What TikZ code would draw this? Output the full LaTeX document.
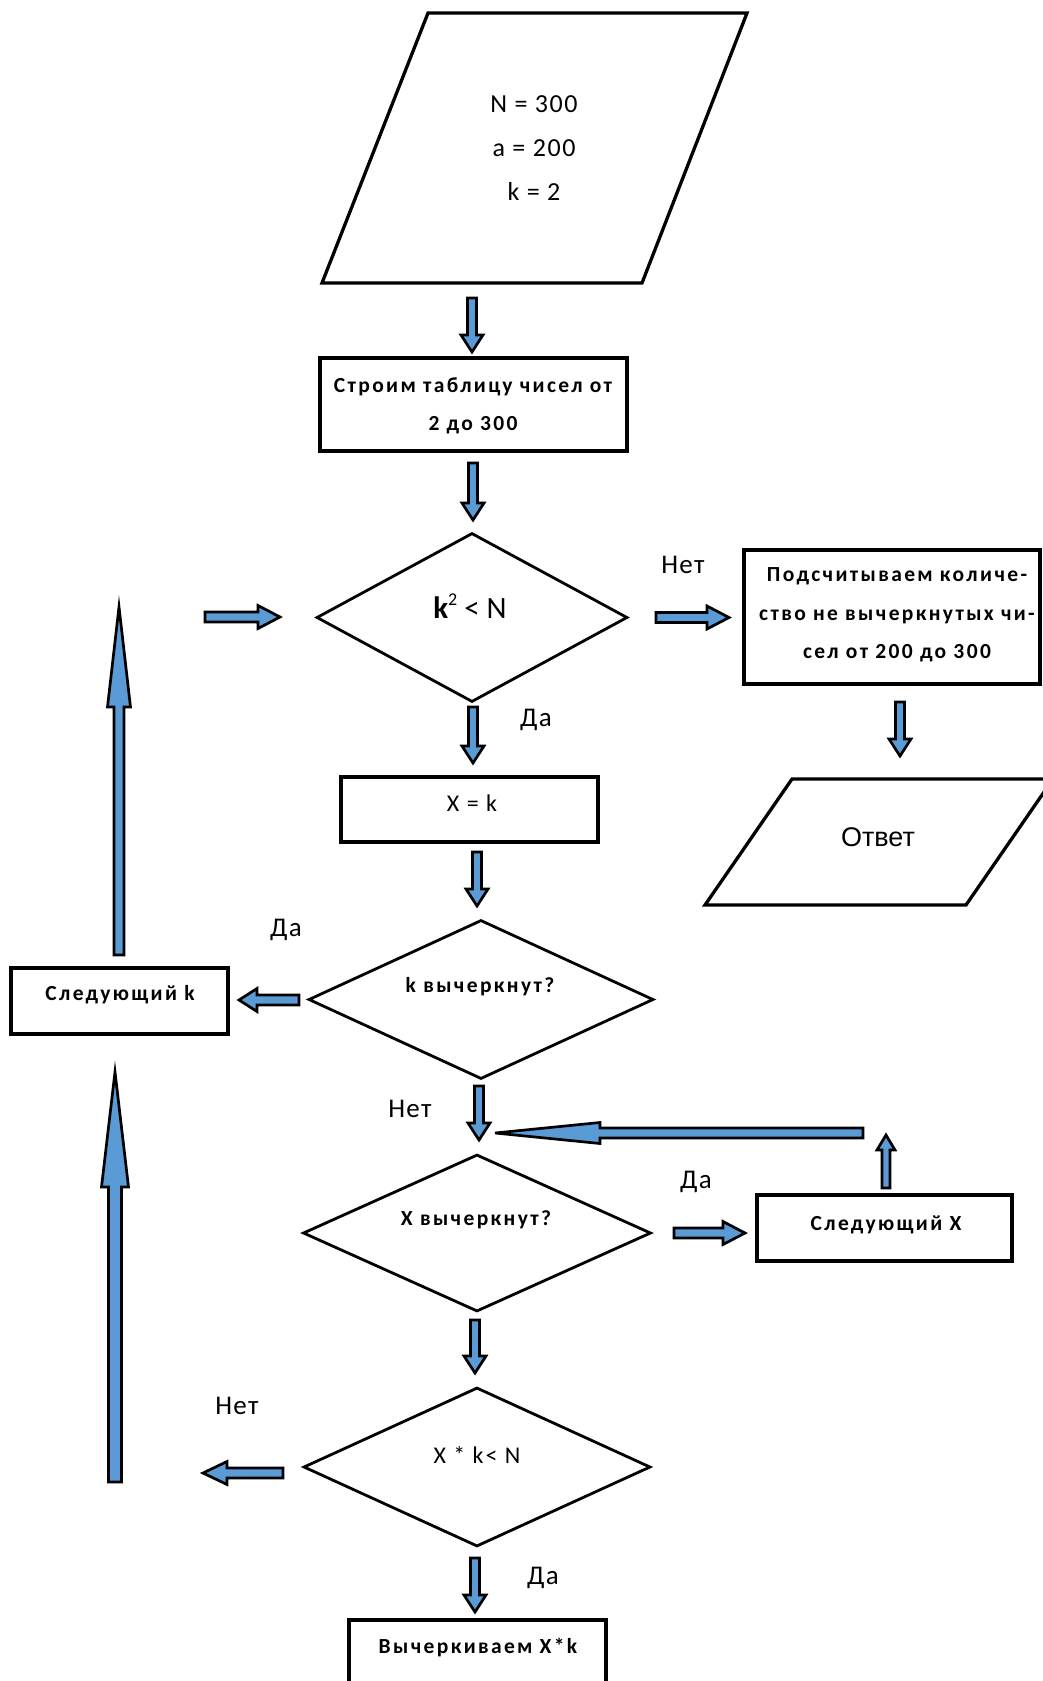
\documentclass[tikz,border=0pt]{standalone}
\usepackage{fontspec}
\setmainfont{Carlito}
\newfontfamily\arialf{Liberation Sans}
\usetikzlibrary{shapes.geometric}
\definecolor{arrowblue}{HTML}{5B9BD5}
\newcommand{\blockarrow}[6]{%
  \draw[barrowstyle, shift={#1}, rotate=#2]
    (0,-#4) -- ({#3-#6},-#4) -- ({#3-#6},-#5) -- (#3,0) -- ({#3-#6},#5) -- ({#3-#6},#4) -- (0,#4) -- cycle;}
\begin{document}
\begin{tikzpicture}[x=1pt,y=-1pt,
  barrowstyle/.style={draw=black, fill=arrowblue, line width=2.7pt, line join=miter},
  shapeline/.style={draw=black, line width=3.3pt, line join=miter},
  boxs/.style={shapeline, rectangle, inner sep=0pt},
  dia/.style={draw=black, line width=2.8pt, diamond, inner sep=0pt},
  btxt/.style={inner sep=0pt, align=center, font=\fontsize{21.5}{38}\selectfont\bfseries\addfontfeatures{LetterSpace=11}},
  rtxt/.style={inner sep=0pt, align=center, font=\fontsize{24}{30}\selectfont\addfontfeatures{LetterSpace=8}},
  lbl/.style={inner sep=0pt, font=\fontsize{27}{30}\selectfont\addfontfeatures{LetterSpace=5}}]
\useasboundingbox (0,0) rectangle (1043,1681);
\clip (0,0) rectangle (1043,1681);
\fill[white] (0,0) rectangle (1043,1681);

% input parallelogram
\coordinate (p1a) at (428,13);
\coordinate (p1b) at (747,13);
\coordinate (p1c) at (642,283);
\coordinate (p1d) at (322,283);
\draw[shapeline] (p1a) -- (p1b) -- (p1c) -- (p1d) -- cycle;
\node[inner sep=0pt, align=center, font=\fontsize{26}{44}\selectfont\addfontfeatures{LetterSpace=6}] (init) at (534,148) {N = 300\\a = 200\\k = 2};

% boxes
\node[boxs, minimum width=307pt, minimum height=93pt] (b1) at (473.5,404.5) {};
\node[btxt] (t1) at (473,406) {Строим таблицу чисел от\\2 до 300};

\node[boxs, minimum width=296pt, minimum height=134pt] (b2) at (892,617) {};
\node[btxt, font=\fontsize{21.5}{38.5}\selectfont\bfseries\addfontfeatures{LetterSpace=11}] (t2) at (897,615) {Подсчитываем количе-\\ство не вычеркнутых чи-\\сел от 200 до 300};

\node[boxs, minimum width=257pt, minimum height=65pt] (b3) at (469.5,809.5) {};
\node[rtxt] (t3) at (472,803) {X = k};

\node[boxs, minimum width=217pt, minimum height=66pt] (b4) at (119.5,1001) {};
\node[btxt] (t4) at (120,995) {Следующий k};

\node[boxs, minimum width=255pt, minimum height=66pt] (b5) at (884.5,1228) {};
\node[btxt] (t5) at (886,1225) {Следующий X};

\node[boxs, minimum width=257pt, minimum height=100pt] (b6) at (477.5,1670) {};
\node[btxt] (t6) at (478,1647) {Вычеркиваем X*k};

% output parallelogram
\coordinate (p2a) at (792,779);
\coordinate (p2b) at (1053,779);
\coordinate (p2c) at (966,905);
\coordinate (p2d) at (705,905);
\draw[shapeline] (p2a) -- (p2b) -- (p2c) -- (p2d) -- cycle;
\node[inner sep=0pt, font=\arialf\fontsize{27}{30}\selectfont] (out) at (878,837) {Ответ};

% diamonds
\node[dia, minimum width=311pt, minimum height=169pt] (d1) at (472,617.5) {};
\node[inner sep=0pt, font=\fontsize{31}{32}\selectfont] (td1) at (470,606) {\textbf{k}\raisebox{0.42em}{\fontsize{18}{18}\selectfont 2} < N};

\node[dia, minimum width=345pt, minimum height=159pt] (d2) at (481,999.5) {};
\node[btxt] (td2) at (480,987) {k вычеркнут?};

\node[dia, minimum width=348pt, minimum height=157pt] (d3) at (477,1233) {};
\node[btxt] (td3) at (476,1220) {X вычеркнут?};

\node[dia, minimum width=347pt, minimum height=159pt] (d4) at (477,1467) {};
\node[rtxt] (td4) at (477,1455) {X * k< N};

% labels
\node[lbl] (l1) at (683,565) {Нет};
\node[lbl] (l2) at (536,720) {Да};
\node[lbl] (l3) at (286,930) {Да};
\node[lbl] (l4) at (410,1109) {Нет};
\node[lbl] (l5) at (696,1182) {Да};
\node[lbl] (l6) at (237,1406) {Нет};
\node[lbl] (l7) at (543,1578) {Да};

% arrow start points
\coordinate (a1) at (472,298);
\coordinate (a2) at (473,463);
\coordinate (a3) at (656,617.5);
\coordinate (a4) at (900,702);
\coordinate (a5) at (205,617);
\coordinate (a6) at (473,707);
\coordinate (a7) at (477,852);
\coordinate (a8) at (299,1000);
\coordinate (a9) at (119,955);
\coordinate (a10) at (115,1482);
\coordinate (a11) at (479,1086);
\coordinate (a12) at (863,1133);
\coordinate (a13) at (886,1188);
\coordinate (a14) at (674,1233);
\coordinate (a15) at (475,1320);
\coordinate (a16) at (283,1473);
\coordinate (a17) at (475,1558);

\blockarrow{(a1)}{-90}{54}{4.5}{11}{17}
\blockarrow{(a2)}{-90}{57}{4.5}{11}{17}
\blockarrow{(a3)}{0}{73}{5}{11.5}{22}
\blockarrow{(a4)}{-90}{54}{4.5}{11}{17}
\blockarrow{(a5)}{0}{75}{5}{11.5}{22}
\blockarrow{(a6)}{-90}{56}{4.5}{11}{17}
\blockarrow{(a7)}{-90}{54}{4.5}{11}{17}
\blockarrow{(a8)}{180}{60}{5}{11.5}{18}
\blockarrow{(a9)}{90}{348}{5}{11.5}{100}
\blockarrow{(a10)}{90}{410}{6.5}{13.5}{115}
\blockarrow{(a11)}{-90}{54}{4.5}{11}{17}
\blockarrow{(a12)}{180}{368}{5}{10.5}{105}
\blockarrow{(a13)}{90}{53}{4}{9}{15}
\blockarrow{(a14)}{0}{71}{5}{11.5}{22}
\blockarrow{(a15)}{-90}{53}{4.5}{11}{17}
\blockarrow{(a16)}{180}{80}{5}{11.5}{24}
\blockarrow{(a17)}{-90}{54}{4.5}{11}{17}
\end{tikzpicture}
\end{document}
